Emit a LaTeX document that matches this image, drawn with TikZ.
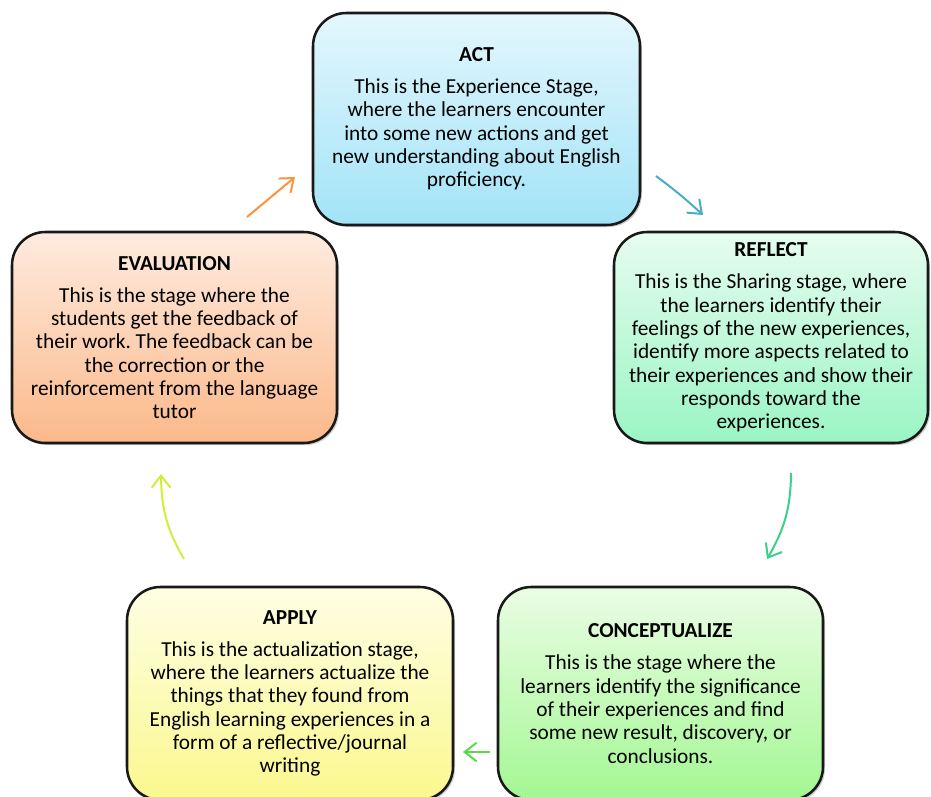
\documentclass[tikz,border=0pt]{standalone}
\usepackage{fontspec}
\setmainfont{Carlito}
\usetikzlibrary{arrows.meta,shadows,bending}
\definecolor{actTop}{HTML}{E4F7FD}\definecolor{actBot}{HTML}{A2E3F7}
\definecolor{refTop}{HTML}{E6FCEF}\definecolor{refBot}{HTML}{9AF5C4}
\definecolor{conTop}{HTML}{EAFDE4}\definecolor{conBot}{HTML}{A3F793}
\definecolor{appTop}{HTML}{FEFEE4}\definecolor{appBot}{HTML}{FBF88E}
\definecolor{evaTop}{HTML}{FEEBDF}\definecolor{evaBot}{HTML}{FBB98A}
\definecolor{arOrange}{HTML}{F7963F}
\definecolor{arBlue}{HTML}{4BACC6}
\definecolor{arMint}{HTML}{3ED08A}
\definecolor{arGreen}{HTML}{5CD94A}
\definecolor{arLime}{HTML}{D4EC3C}
\frenchspacing
\begin{document}
\begin{tikzpicture}[x=0.75pt,y=-0.75pt,
  stagebox/.style={draw=black!90, line width=1.9pt, rounded corners=25pt,
    align=center, inner sep=0pt, font=\fontsize{16}{17.5}\selectfont,
    drop shadow={shadow xshift=1.5pt,shadow yshift=-1.5pt,opacity=0.4}},
  cyc/.style={line width=1.5pt, -{Straight Barb[length=9pt,width=14pt,line width=1.5pt]}}
]
\useasboundingbox (0,0) rectangle (931,796);

\node[stagebox, top color=actTop, bottom color=actBot,
  minimum width=245.25pt, minimum height=159pt] (act) at (476.5,119)
  {\textbf{ACT}\\[6.5pt]This is the Experience Stage,\\where the learners encounter\\into some new actions and get\\new understanding about English\\proficiency.};

\node[stagebox, top color=refTop, bottom color=refBot,
  minimum width=235.5pt, minimum height=158.25pt] (reflect) at (771,337.5)
  {\textbf{REFLECT}\\[6.5pt]This is the Sharing stage, where\\the learners identify their\\feelings of the new experiences,\\identify more aspects related to\\their experiences and show their\\responds toward the\\experiences.};

\node[stagebox, top color=conTop, bottom color=conBot,
  minimum width=243.75pt, minimum height=159.75pt] (concept) at (660.5,693.5)
  {\textbf{CONCEPTUALIZE}\\[6.5pt]This is the stage where the\\learners identify the significance\\of their experiences and find\\some new result, discovery, or\\conclusions.};

\node[stagebox, top color=appTop, bottom color=appBot,
  minimum width=244.5pt, minimum height=159.75pt] (apply) at (290,693.5)
  {\textbf{APPLY}\\[6.5pt]This is the actualization stage,\\where the learners actualize the\\things that they found from\\English learning experiences in a\\form of a reflective/journal\\writing};

\node[stagebox, top color=evaTop, bottom color=evaBot,
  minimum width=243.75pt, minimum height=158.25pt] (eval) at (174.5,337.5)
  {\textbf{EVALUATION}\\[6.5pt]This is the stage where the\\students get the feedback of\\their work. The feedback can be\\the correction or the\\reinforcement from the language\\tutor};

\coordinate (ar1s) at (656,176); \coordinate (ar1e) at (703,215);
\coordinate (ar2s) at (791,473); \coordinate (ar2e) at (767,559);
\coordinate (ar3s) at (490,752); \coordinate (ar3e) at (463,752);
\coordinate (ar4s) at (184,559); \coordinate (ar4e) at (161,474);
\coordinate (ar5s) at (247,217); \coordinate (ar5e) at (295,177);

\draw[cyc, draw=arBlue] (ar1s) to[bend left=3] (ar1e);
\draw[cyc, draw=arMint] (ar2s) to[bend left=15] (ar2e);
\draw[cyc, draw=arGreen] (ar3s) -- (ar3e);
\draw[cyc, draw=arLime] (ar4s) to[bend left=15] (ar4e);
\draw[cyc, draw=arOrange] (ar5s) -- (ar5e);
\end{tikzpicture}
\end{document}
